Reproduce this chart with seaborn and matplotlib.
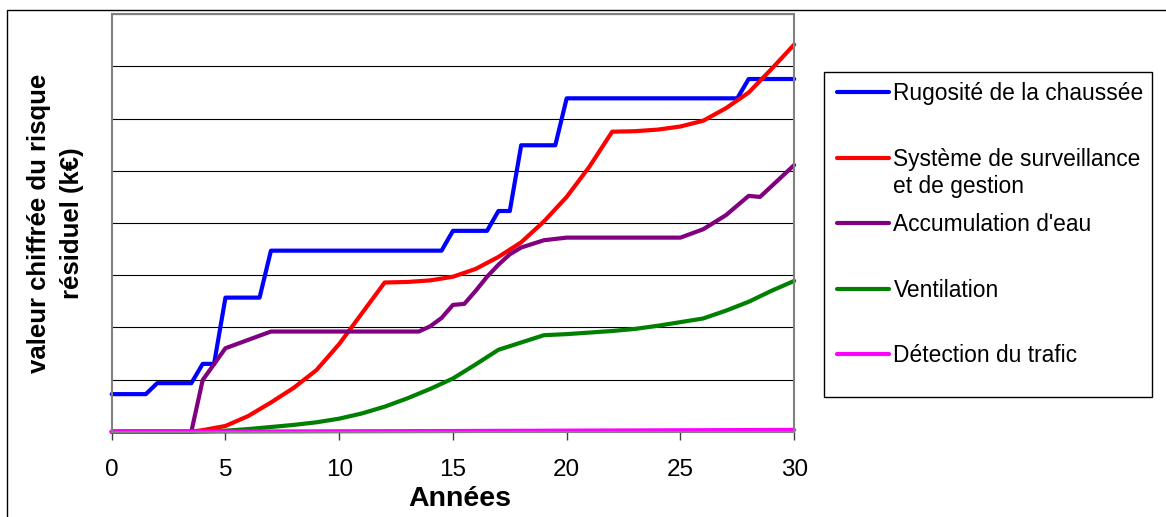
import numpy as np
import pandas as pd
import seaborn as sns
import matplotlib.pyplot as plt
from matplotlib.patches import Rectangle
from matplotlib.lines import Line2D

# risk curves (k€ per year)
series_names = ["Rugosité de la chaussée", "Système de surveillance",
                "Accumulation d'eau", "Ventilation", "Détection du trafic"]
name_suite = "et de gestion"  # second line of the 2nd legend entry
series_colors = ["#0000FF", "#FF0000", "#800080", "#008000", "#FF00FF"]

rugo_x = [0, 1.5, 2, 3.5, 4, 4.5, 5, 6.5, 7, 14.5, 15, 16.5, 17, 17.5, 18, 19.5, 20, 27.5, 28, 30]
rugo_y = [0.72, 0.72, 0.93, 0.93, 1.30, 1.30, 2.57, 2.57, 3.47, 3.47, 3.85, 3.85, 4.23, 4.23,
          5.49, 5.49, 6.39, 6.39, 6.76, 6.76]

surv_x = [0, 3.5, 4, 5, 6, 7, 8, 9, 10, 11, 12, 13, 14, 15, 16, 17, 18, 19, 20, 21, 22,
          23, 24, 25, 26, 27, 28, 29, 30]
surv_y = [0, 0, 0.03, 0.11, 0.30, 0.56, 0.84, 1.18, 1.68, 2.27, 2.86, 2.87, 2.90, 2.97, 3.12,
          3.35, 3.63, 4.03, 4.50, 5.08, 5.75, 5.76, 5.79, 5.85, 5.96, 6.20, 6.50, 6.95, 7.42]

eau_x = [0, 3.5, 4, 5, 7, 13.5, 14, 14.5, 15, 15.5, 16, 16.5, 17, 17.5, 18, 19, 20, 25, 26,
         27, 28, 28.5, 30]
eau_y = [0, 0, 0.99, 1.60, 1.92, 1.92, 2.02, 2.18, 2.43, 2.45, 2.70, 2.97, 3.20, 3.40, 3.53,
         3.67, 3.72, 3.72, 3.88, 4.15, 4.52, 4.50, 5.11]

vent_x = [0, 3.5, 4, 5, 6, 7, 8, 9, 10, 11, 12, 13, 14, 15, 16, 17, 18, 19, 20, 21, 22,
          23, 24, 25, 26, 27, 28, 29, 30]
vent_y = [0, 0, 0.005, 0.02, 0.05, 0.09, 0.13, 0.18, 0.25, 0.35, 0.48, 0.64, 0.82, 1.02, 1.29,
          1.57, 1.71, 1.85, 1.87, 1.90, 1.93, 1.97, 2.03, 2.10, 2.17, 2.32, 2.49, 2.70, 2.89]

trafic_x = [0, 5, 10, 15, 20, 25, 30]
trafic_y = [0, 0.003, 0.008, 0.013, 0.02, 0.027, 0.035]

x_ticks = [0, 5, 10, 15, 20, 25, 30]

frames = []
for name, xs, ys in zip(series_names,
                        [rugo_x, surv_x, eau_x, vent_x, trafic_x],
                        [rugo_y, surv_y, eau_y, vent_y, trafic_y]):
    frames.append(pd.DataFrame({"annee": xs, "valeur": ys, "serie": name}))
df = pd.concat(frames, ignore_index=True)

sns.set_theme(style="white")
plt.rcParams['font.family'] = ['Liberation Sans', 'DejaVu Sans']

fig = plt.figure(figsize=(11.66, 5.17), dpi=100)
ax = fig.add_axes([0.0958, 0.165, 0.5853, 0.8073])

sns.lineplot(data=df, x="annee", y="valeur", hue="serie", hue_order=series_names,
             palette=dict(zip(series_names, series_colors)), estimator=None, sort=False,
             linewidth=3, legend=False, ax=ax)
for line, name in zip(ax.lines, series_names):
    line.set_label(name)
    line.set_clip_on(False)
    line.set_solid_capstyle("round")
    line.set_solid_joinstyle("round")

ax.set_xlim(0, 30)
ax.set_ylim(0, 8)
ax.set_xticks(x_ticks)
ax.set_yticks(range(0, 9))
ax.set_yticklabels([])
ax.grid(axis="y", color="black", linewidth=0.8)
ax.set_axisbelow(True)
ax.tick_params(axis="x", direction="out", length=6, width=1, color="#404040",
               pad=14, labelsize=17.5, labelcolor="black", bottom=True)
ax.tick_params(axis="y", length=0)
for sp in ax.spines.values():
    sp.set_color("#808080")
    sp.set_linewidth(1.5)

ax.set_xlabel("Années", fontsize=20.5, fontweight="bold", color="black")
ax.xaxis.set_label_coords(0.51, -0.130)
ax.set_ylabel("valeur chiffrée du risque\nrésiduel (k€)", fontsize=18.5, fontweight="bold",
              color="black", linespacing=1.45)
ax.yaxis.set_label_coords(-0.041, 0.5)

leg = ax.legend(handles=ax.lines, labels=series_names, loc="upper left",
                bbox_to_anchor=(0.7176, 0.8415), bbox_transform=fig.transFigure,
                frameon=False, borderpad=0, borderaxespad=0, fontsize=16.35,
                handlelength=2.32, handletextpad=0.18, labelspacing=1.877)
for t in leg.texts:
    t.set_color("black")
for h in leg.legend_handles:
    h.set_linewidth(3)
    h.set_solid_capstyle("round")

# wrapped continuation of the 2nd legend label, hung under its first line
ax.annotate(name_suite, xy=(0, 0), xycoords=leg.texts[1], xytext=(0, -3),
            textcoords="offset points", ha="left", va="top", fontsize=16.35,
            color="black", zorder=10)

# legend box and outer chart border
fig.patches.append(Rectangle((0.7069, 0.2327), 0.2813, 0.6286, transform=fig.transFigure,
                             fill=False, edgecolor="black", linewidth=1.0))
fig.add_artist(Line2D([7 / 1166, 7 / 1166, 1], [0, 1 - 10 / 517, 1 - 10 / 517],
                      transform=fig.transFigure, color="black", linewidth=1.0))

fig.savefig("out.png", dpi=100)
